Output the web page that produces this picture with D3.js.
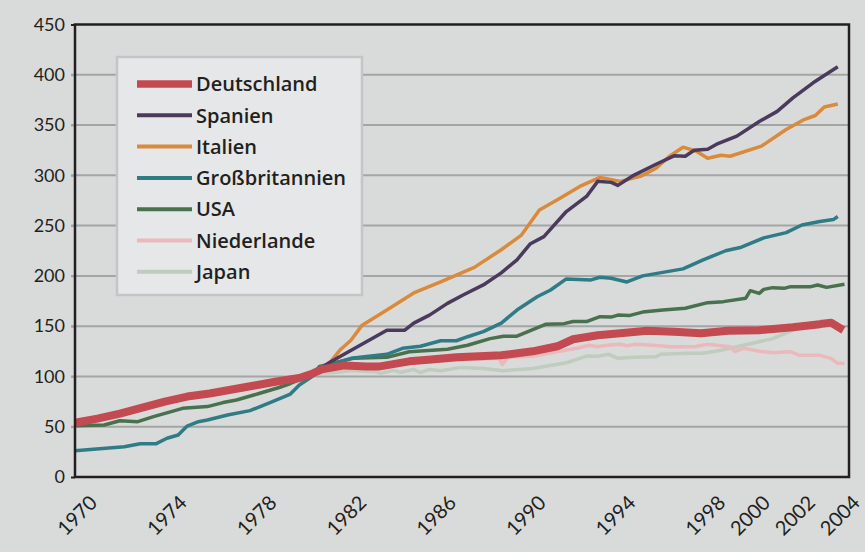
<!DOCTYPE html>
<html>
<head>
<meta charset="utf-8">
<script src="https://cdn.jsdelivr.net/npm/d3@7"></script>
<style>
  body { margin: 0; background: #d9dbda; }
  text { font-family: Lato, "Open Sans", sans-serif; fill: #231f20; }
</style>
</head>
<body>
<svg id="chart" width="865" height="552"></svg>
<script>
// index 1980 = 100 as [year, value]
var deutschland = [[1970,54],[1971,58],[1972,63],[1973,69],[1974,75],[1975,80],[1976,83],[1977,87],[1978,91],[1979,95],[1980,98.5],[1980.6,103],[1981,107],[1982,111],[1983,110],[1983.6,110],[1984.9,115],[1986,117],[1987,119],[1988,120],[1989,121],[1990.4,125],[1991.5,130],[1992.2,137],[1993.3,141],[1994.3,143],[1995.5,145.5],[1996.7,144.5],[1997.9,143],[1999.1,145.5],[2000.5,146],[2002,149],[2003.2,152],[2003.7,153.5],[2004.25,146]];
var spanien = [[1980.4,100],[1981.4,114.7],[1983.9,146],[1984.7,146],[1985.1,153],[1985.8,161],[1986.6,172.7],[1987.3,181],[1988.2,191],[1989,203],[1989.7,216],[1990.3,232],[1990.9,239],[1991.9,264],[1992.8,279],[1993.3,294],[1993.9,293],[1994.2,290],[1994.9,300],[1995.9,311],[1996.7,319.4],[1997.2,319],[1997.6,325],[1998.2,326],[1998.6,331],[1999.5,339],[2000.5,353.6],[2001.3,363.6],[2002,377],[2002.9,392],[2004,408]];
var italien = [[1980.4,100],[1981.4,114.7],[1981.8,126],[1982.3,136],[1982.8,151],[1983.9,166],[1985.1,183],[1986.3,194],[1987.8,208.5],[1989,226],[1989.9,240.6],[1990.7,265.5],[1991.6,277],[1992.5,289],[1993.4,298],[1994.3,294],[1995.2,299],[1995.9,307],[1996.5,319],[1997.1,328],[1997.7,324],[1998.2,317],[1998.8,320],[1999.2,319],[2000.6,329],[2001.7,345.6],[2002.5,355.5],[2003,359.5],[2003.4,368],[2004,371]];
var grossbritannien = [[1970,26],[1972.2,30],[1972.9,33],[1973.6,33],[1974.1,38.5],[1974.6,41.8],[1975,50.7],[1975.5,55],[1975.9,56.7],[1976.8,61.6],[1977.8,66],[1978.8,75],[1979.6,82.5],[1980,91.5],[1980.6,100.4],[1980.9,109],[1982.3,118],[1983.9,122],[1984.6,128],[1985.4,130],[1986.3,135.5],[1987,135.5],[1987.5,139.5],[1988.2,144.5],[1989,153],[1989.7,166],[1990.6,179.3],[1991.2,186],[1991.9,197],[1993,196],[1993.4,198.6],[1993.9,197.6],[1994.6,194],[1995.3,200],[1997.1,207],[1998,216],[1999,225],[1999.7,228.5],[2000.7,237.8],[2001.7,243],[2002.4,250.6],[2003.2,254],[2003.8,256],[2004,259]];
var usa = [[1970,51],[1971.3,51.7],[1972,56],[1972.8,55],[1973.5,60],[1974.8,68.3],[1975.9,70],[1976.6,74],[1977.2,76.6],[1978.2,83],[1979.1,89],[1979.6,93],[1980.6,102],[1980.9,110],[1982.4,118],[1983.9,119],[1984.9,124.6],[1986.6,127],[1987.5,131],[1988.5,137.6],[1989.1,140],[1989.7,140],[1991,152],[1991.8,152.5],[1992.2,154.6],[1992.8,154.6],[1993.4,159.4],[1993.9,159],[1994.2,161],[1994.7,160.5],[1995.3,164],[1996.2,166],[1997.2,167.8],[1998.2,173.4],[1998.9,174.4],[1999.9,177.8],[2000.1,185.3],[2000.5,182.6],[2000.7,186.6],[2001.1,188.3],[2001.6,187.6],[2001.9,189.3],[2002.8,189.3],[2003.1,191],[2003.5,188.6],[2004.3,191.6]];
var niederlande = [[1979,96],[1980,99],[1981,105],[1982,108],[1983,108],[1984,111],[1985,113],[1986,115],[1987,116],[1988,117],[1988.9,118],[1989.05,112],[1989.3,119],[1990.4,120],[1991.6,125],[1992.5,128.6],[1992.9,131],[1993.3,129.6],[1993.7,131],[1994.3,132],[1994.6,130.6],[1995,132],[1996.1,130.6],[1996.5,129.6],[1997.6,129.6],[1998.2,132],[1998.8,130.6],[1999.2,129.6],[1999.4,124.6],[1999.8,128],[2000.5,125],[2001.1,123.6],[2001.9,124.6],[2002.3,121],[2003.2,121],[2003.7,118],[2004,113],[2004.3,113]];
var japan = [[1979,97],[1980,99],[1981,104],[1981.5,103.7],[1982.3,106],[1983.4,104.7],[1983.6,103],[1984.2,106],[1984.5,104],[1985.1,107],[1985.4,103.7],[1985.8,107],[1986.3,105.7],[1987.2,109],[1988.2,108],[1989.1,105.7],[1990.4,108],[1991.9,113.6],[1992.5,118],[1992.8,120.3],[1993.3,120],[1993.8,122],[1994.2,118],[1994.9,119],[1995.9,119.6],[1996.1,122],[1997.3,123],[1998,123],[1998.8,126],[1999.8,131],[2001.1,137.6],[2002,146],[2002.6,151],[2003.3,155.4],[2003.7,154.6],[2004.1,148]];

var names = ["Deutschland", "Spanien", "Italien", "Großbritannien", "USA", "Niederlande", "Japan"];
var seriesData = [deutschland, spanien, italien, grossbritannien, usa, niederlande, japan];
var colors = ["#c44a51", "#4b3a5d", "#d98a3b", "#2f7c86", "#49714e", "#ebb9bb", "#c0ccbe"];
var widths = [8, 3.5, 3.5, 3.5, 3.5, 3.5, 3.5];

var xTicks = [1970, 1974, 1978, 1982, 1986, 1990, 1994, 1998, 2000, 2002, 2004];
var yTicks = [0, 50, 100, 150, 200, 250, 300, 350, 400, 450];

var svg = d3.select("#chart");
var margin = { top: 24.5, right: 16, bottom: 75, left: 75 };
var width = 865 - margin.left - margin.right;
var height = 552 - margin.top - margin.bottom;

var x = d3.scaleLinear().domain([1970, 2004.5]).range([margin.left, margin.left + width]);
var y = d3.scaleLinear().domain([0, 450]).range([margin.top + height, margin.top]);

// gridlines
svg.append("g")
    .selectAll("line")
    .data(yTicks.filter(function (d) { return d > 0 && d < 450; }))
    .enter()
    .append("line")
    .attr("x1", margin.left - 4)
    .attr("x2", margin.left + width)
    .attr("y1", function (d) { return y(d); })
    .attr("y2", function (d) { return y(d); })
    .attr("stroke", "#a4a5a5")
    .attr("stroke-width", 2);

// y axis labels
var yAxis = svg.append("g")
    .attr("transform", "translate(" + margin.left + ",0)")
    .call(d3.axisLeft(y).tickValues(yTicks).tickSize(4).tickPadding(6));
yAxis.select(".domain").remove();
yAxis.selectAll("line").attr("stroke-width", 2)
    .attr("stroke", function (d) { return (d == 0 || d == 450) ? "#231f20" : "#a4a5a5"; });
yAxis.selectAll("text").style("font-size", "18px").attr("fill", "#231f20");

// x axis labels
var xAxis = svg.append("g")
    .attr("transform", "translate(0," + (margin.top + height) + ")")
    .call(d3.axisBottom(x).tickValues(xTicks).tickSize(0).tickFormat(d3.format("d")));
xAxis.select(".domain").remove();
xAxis.selectAll("text")
    .style("font-size", "20px")
    .attr("text-anchor", "end")
    .attr("dy", 0)
    .attr("y", 0)
    .attr("transform", "translate(23,27) rotate(-45)");

// lines, drawn back to front
var line = d3.line()
    .x(function (d) { return x(d[0]); })
    .y(function (d) { return y(d[1]); });

var order = [6, 5, 4, 3, 2, 1, 0];
svg.append("g")
    .selectAll("path")
    .data(order)
    .enter()
    .append("path")
    .attr("d", function (i) { return line(seriesData[i]); })
    .attr("fill", "none")
    .attr("stroke", function (i) { return colors[i]; })
    .attr("stroke-width", function (i) { return widths[i]; })
    .attr("stroke-linejoin", "round");

// frame
svg.append("path")
    .attr("d", "M" + margin.left + "," + (margin.top + height) + "V" + margin.top + "H" + (margin.left + width) + "V" + (margin.top + height) + "Z")
    .attr("fill", "none")
    .attr("stroke", "#231f20")
    .attr("stroke-width", 2.5);

// legend
var legend = svg.append("g");
legend.append("rect")
    .attr("x", 117).attr("y", 57)
    .attr("width", 245).attr("height", 238)
    .attr("fill", "#e6e7e8")
    .attr("stroke", "#c3c5c6")
    .attr("stroke-width", 2.5);

var rows = legend.selectAll(".row")
    .data(names)
    .enter()
    .append("g")
    .attr("transform", function (d, i) { return "translate(137," + (84 + i * 31.3) + ")"; });
rows.append("line")
    .attr("x1", 0).attr("x2", 55)
    .attr("stroke", function (d, i) { return colors[i]; })
    .attr("stroke-width", function (d, i) { return i == 0 ? 7.5 : 4; });
rows.append("text")
    .attr("x", 59)
    .attr("dy", "0.36em")
    .style("font-family", "'Open Sans', sans-serif")
    .style("font-size", "20px")
    .style("font-weight", "600")
    .text(function (d) { return d; });
</script>
</body>
</html>
